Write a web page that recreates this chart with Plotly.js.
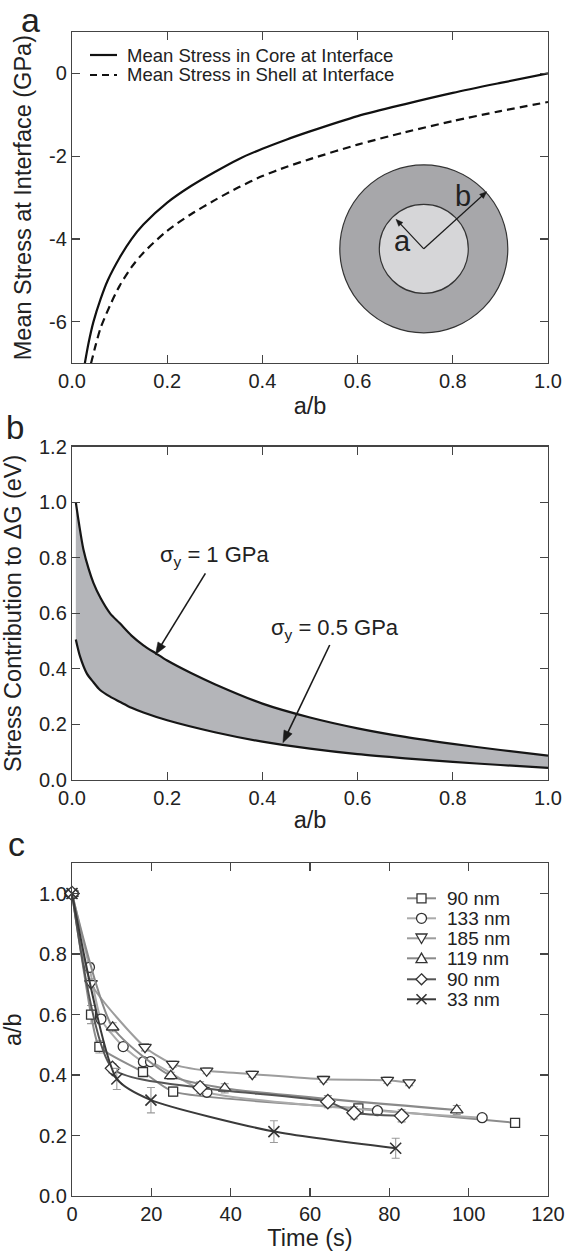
<!DOCTYPE html>
<html>
<head>
<meta charset="utf-8">
<script src="https://cdn.plot.ly/plotly-3.0.1.min.js"></script>
<style>
  html, body { margin: 0; padding: 0; background: #ffffff; }
  #chart { width: 565px; height: 1253px; }
</style>
</head>
<body>
<div id="chart"></div>
<script>
// ---------------- Panel a: mean stress at interface ----------------
const coreAB   = [0.027, 0.035, 0.045, 0.06, 0.075, 0.1, 0.125, 0.15, 0.2, 0.25, 0.3, 0.35, 0.4, 0.45, 0.5, 0.6, 0.7, 0.8, 0.9, 1.0];
const coreGPa  = [-7.0, -6.5, -6.0, -5.45, -5.0, -4.45, -4.0, -3.65, -3.12, -2.72, -2.38, -2.07, -1.82, -1.6, -1.4, -1.03, -0.74, -0.47, -0.23, 0.0];
const shellAB  = [0.04, 0.05, 0.06, 0.08, 0.1, 0.125, 0.15, 0.2, 0.25, 0.3, 0.35, 0.4, 0.45, 0.5, 0.6, 0.7, 0.8, 0.9, 1.0];
const shellGPa = [-7.0, -6.55, -6.15, -5.6, -5.13, -4.68, -4.33, -3.8, -3.4, -3.06, -2.75, -2.48, -2.26, -2.07, -1.72, -1.42, -1.15, -0.91, -0.69];
const legendA  = ['Mean Stress in Core at Interface', 'Mean Stress in Shell at Interface'];
const yTickValsA = [-6, -4, -2, 0];
const yTickTextA = ['-6', '-4', '-2', '0'];

// ---------------- Panel b: stress contribution to ΔG ----------------
const hiAB = [0.008, 0.015, 0.024, 0.035, 0.045, 0.06, 0.08, 0.1, 0.125, 0.15, 0.176, 0.2, 0.25, 0.3, 0.4, 0.5, 0.6, 0.7, 0.8, 0.9, 1.0];
const hiEV = [1.0, 0.92, 0.83, 0.76, 0.71, 0.655, 0.60, 0.565, 0.52, 0.485, 0.456, 0.43, 0.385, 0.345, 0.275, 0.225, 0.186, 0.155, 0.13, 0.108, 0.088];
const loAB = [0.008, 0.017, 0.031, 0.045, 0.059, 0.08, 0.1, 0.125, 0.15, 0.2, 0.3, 0.4, 0.5, 0.6, 0.7, 0.8, 0.9, 1.0];
const loEV = [0.506, 0.444, 0.384, 0.352, 0.324, 0.30, 0.282, 0.26, 0.243, 0.215, 0.172, 0.138, 0.113, 0.093, 0.078, 0.065, 0.054, 0.044];
const labelHi = 'σ<sub>y</sub> = 1 GPa';
const labelLo = 'σ<sub>y</sub> = 0.5 GPa';

// ---------------- Panel c: a/b versus time ----------------
const seriesNames = ['90 nm', '133 nm', '185 nm', '119 nm', '90 nm', '33 nm'];
const tSq   = [0, 4.8, 6.9, 17.9, 25.5, 72.2, 111.7];
const vSq   = [1.0, 0.600, 0.493, 0.410, 0.345, 0.290, 0.242];
const eSq   = [0, 0.03, 0.02, 0.015, 0.015, 0.012, 0.012];
const tCi   = [0, 4.4, 7.3, 12.9, 18.0, 19.8, 34.0, 77.0, 103.4];
const vCi   = [1.0, 0.756, 0.585, 0.494, 0.444, 0.444, 0.343, 0.282, 0.259];
const eCi   = [0, 0.015, 0.015, 0.012, 0.012, 0.012, 0.01, 0.01, 0.01];
const tDn   = [0, 4.8, 18.4, 25.4, 33.95, 45.45, 63.4, 79.5, 85.0];
const vDn   = [1.0, 0.703, 0.492, 0.436, 0.414, 0.403, 0.386, 0.383, 0.375];
const eDn   = [0, 0.015, 0.012, 0.01, 0.01, 0.01, 0.01, 0.01, 0.01];
const tUp   = [0, 10.25, 24.9, 38.5, 97.0];
const vUp   = [1.0, 0.558, 0.397, 0.356, 0.284];
const eUp   = [0, 0.015, 0.012, 0.015, 0.015];
const tDi   = [0, 10.2, 32.3, 64.5, 71.1, 83.1];
const vDi   = [1.0, 0.422, 0.358, 0.312, 0.275, 0.265];
const eDi   = [0, 0.015, 0.02, 0.02, 0.02, 0.02];
const tX    = [0, 11.3, 19.9, 50.9, 81.6];
const vX    = [1.0, 0.387, 0.317, 0.213, 0.158];
const eX    = [0, 0.035, 0.042, 0.036, 0.033];

// ---------------- layout helpers (pixel -> paper) ----------------
const W = 565, H = 1253;
const ML = 72, MR = 17, MT = 32, MB = 57;
const PL = ML, PR = W - MR, PT = MT, PB = H - MB;
const px = v => (v - PL) / (PR - PL);
const py = v => 1 - (v - PT) / (PB - PT);
const FONT = 'Liberation Sans, Arial, Helvetica, sans-serif';
const INK = '#222222';
const FRAME = '#444444';

const axisBase = {
  showline: true, linecolor: FRAME, linewidth: 1.2, mirror: 'ticks',
  ticks: 'inside', ticklen: 8, tickwidth: 1.2, tickcolor: FRAME,
  showgrid: false, zeroline: false, automargin: false,
  tickfont: { family: FONT, size: 20, color: INK }
};
const titleFont = { family: FONT, size: 23.5, color: INK };

const colSq = '#8c8c8c', colCi = '#ababab', colDn = '#9d9d9d', colUp = '#8a8a8a', colDi = '#555555', colX = '#3a3a3a';
const mkLine = '#333333';

function seriesTrace(t, v, e, name, color, symbol, size) {
  const isX = symbol === 'x-thin';
  return {
    x: t, y: v, name: name, xaxis: 'x3', yaxis: 'y3', type: 'scatter', mode: 'lines+markers',
    showlegend: false, cliponaxis: false,
    line: { color: color, width: 2, shape: 'spline', smoothing: 0.6 },
    marker: isX ? { symbol: symbol, size: size, line: { color: mkLine, width: 1.6 } }
                : { symbol: symbol, size: size, color: '#ffffff', line: { color: mkLine, width: 1.3 } },
    error_y: { type: 'data', array: e, visible: true, color: '#9a9a9a', thickness: 1.1, width: 4 }
  };
}

const traces = [
  { x: coreAB, y: coreGPa, xaxis: 'x', yaxis: 'y', mode: 'lines', name: legendA[0], showlegend: false,
    line: { color: '#111111', width: 2.2, shape: 'spline', smoothing: 0.8 } },
  { x: shellAB, y: shellGPa, xaxis: 'x', yaxis: 'y', mode: 'lines', name: legendA[1], showlegend: false,
    line: { color: '#111111', width: 2.2, dash: '8px,5px', shape: 'spline', smoothing: 0.8 } },
  { x: loAB, y: loEV, xaxis: 'x2', yaxis: 'y2', mode: 'lines', name: '0.5 GPa', showlegend: false,
    line: { color: '#161616', width: 2.2, shape: 'spline', smoothing: 0.8 } },
  { x: hiAB, y: hiEV, xaxis: 'x2', yaxis: 'y2', mode: 'lines', name: '1 GPa', showlegend: false,
    fill: 'tonexty', fillcolor: '#b4b5b9', line: { color: '#161616', width: 2.2, shape: 'spline', smoothing: 0.8 } },
  seriesTrace(tSq, vSq, eSq, seriesNames[0], colSq, 'square', 9),
  seriesTrace(tCi, vCi, eCi, seriesNames[1], colCi, 'circle', 10),
  seriesTrace(tDn, vDn, eDn, seriesNames[2], colDn, 'triangle-down', 11),
  seriesTrace(tUp, vUp, eUp, seriesNames[3], colUp, 'triangle-up', 11),
  seriesTrace(tDi, vDi, eDi, seriesNames[4], colDi, 'diamond', 11),
  seriesTrace(tX, vX, eX, seriesNames[5], colX, 'x-thin', 11)
];

// ---------------- shapes: inset, legends, arrows ----------------
const shapes = [];
const P = (x, y) => px(x).toFixed(5) + ',' + py(y).toFixed(5);
// inset core/shell diagram (panel a)
const cx = 423.8, cy = 248.8, rOut = 84, rIn = 44.5;
shapes.push({ type: 'circle', xref: 'paper', yref: 'paper', x0: px(cx - rOut), x1: px(cx + rOut), y0: py(cy + rOut), y1: py(cy - rOut),
  fillcolor: '#a7a7aa', line: { color: '#333333', width: 1.2 }, layer: 'above' });
shapes.push({ type: 'circle', xref: 'paper', yref: 'paper', x0: px(cx - rIn), x1: px(cx + rIn), y0: py(cy + rIn), y1: py(cy - rIn),
  fillcolor: '#d6d6d8', line: { color: '#333333', width: 1.2 }, layer: 'above' });

function arrowShape(tx, ty, hx, hy, headLen, headHalf, width) {
  const dx = hx - tx, dy = hy - ty, len = Math.hypot(dx, dy);
  const ux = dx / len, uy = dy / len;
  const bx = hx - ux * headLen, by = hy - uy * headLen;
  const nx = -uy, ny = ux;
  shapes.push({ type: 'line', xref: 'paper', yref: 'paper', x0: px(tx), y0: py(ty), x1: px(bx + ux), y1: py(by + uy),
    line: { color: '#1a1a1a', width: width }, layer: 'above' });
  shapes.push({ type: 'path', xref: 'paper', yref: 'paper', layer: 'above',
    path: 'M' + P(hx, hy) + 'L' + P(bx + nx * headHalf, by + ny * headHalf) + 'L' + P(bx - nx * headHalf, by - ny * headHalf) + 'Z',
    fillcolor: '#1a1a1a', line: { color: '#1a1a1a', width: 0.5 } });
}
arrowShape(cx, cy, 396, 219.3, 7, 2.8, 1.2);
arrowShape(cx, cy, 486.7, 191.7, 7, 2.8, 1.2);
arrowShape(205.4, 573.3, 155.5, 654.5, 12, 4.5, 1.6);
arrowShape(329.7, 645, 282.9, 742.7, 12, 4.5, 1.6);

// legend a line samples
shapes.push({ type: 'line', xref: 'paper', yref: 'paper', x0: px(90), x1: px(117), y0: py(55), y1: py(55), line: { color: '#111', width: 2.2 } });
shapes.push({ type: 'line', xref: 'paper', yref: 'paper', x0: px(90), x1: px(117), y0: py(75), y1: py(75), line: { color: '#111', width: 2.2, dash: '7px,5px' } });

// legend c samples
const legRows = [898.3, 918.3, 938.3, 958.3, 979.3, 999.3];
const legCols = [colSq, colCi, colDn, colUp, colDi, colX];
const lx0 = 407, lx1 = 436, mx = 421.5;
legRows.forEach((r, i) => {
  shapes.push({ type: 'line', xref: 'paper', yref: 'paper', x0: px(lx0), x1: px(lx1), y0: py(r), y1: py(r), line: { color: legCols[i], width: 2 } });
});
const mkStyle = { fillcolor: '#ffffff', line: { color: mkLine, width: 1.3 } };
shapes.push(Object.assign({ type: 'rect', xref: 'paper', yref: 'paper', x0: px(mx - 4.5), x1: px(mx + 4.5), y0: py(legRows[0] + 4.5), y1: py(legRows[0] - 4.5) }, mkStyle));
shapes.push(Object.assign({ type: 'circle', xref: 'paper', yref: 'paper', x0: px(mx - 5), x1: px(mx + 5), y0: py(legRows[1] + 5), y1: py(legRows[1] - 5) }, mkStyle));
shapes.push(Object.assign({ type: 'path', xref: 'paper', yref: 'paper',
  path: 'M' + P(mx - 5.5, legRows[2] - 4.3) + 'L' + P(mx + 5.5, legRows[2] - 4.3) + 'L' + P(mx, legRows[2] + 5.2) + 'Z' }, mkStyle));
shapes.push(Object.assign({ type: 'path', xref: 'paper', yref: 'paper',
  path: 'M' + P(mx, legRows[3] - 5.2) + 'L' + P(mx + 5.5, legRows[3] + 4.3) + 'L' + P(mx - 5.5, legRows[3] + 4.3) + 'Z' }, mkStyle));
shapes.push(Object.assign({ type: 'path', xref: 'paper', yref: 'paper',
  path: 'M' + P(mx, legRows[4] - 5.5) + 'L' + P(mx + 5.5, legRows[4]) + 'L' + P(mx, legRows[4] + 5.5) + 'L' + P(mx - 5.5, legRows[4]) + 'Z' }, mkStyle));
shapes.push({ type: 'path', xref: 'paper', yref: 'paper',
  path: 'M' + P(mx - 5, legRows[5] - 5) + 'L' + P(mx + 5, legRows[5] + 5) + 'M' + P(mx + 5, legRows[5] - 5) + 'L' + P(mx - 5, legRows[5] + 5),
  line: { color: mkLine, width: 1.6 } });

// ---------------- annotations ----------------
const ann = [];
function txt(x, y, text, size, xanchor) {
  ann.push({ xref: 'paper', yref: 'paper', x: px(x), y: py(y), text: text, showarrow: false,
    xanchor: xanchor || 'center', yanchor: 'middle', font: { family: FONT, size: size, color: INK } });
}
// panel letters
txt(30.5, 20, 'a', 34);
txt(15, 427, 'b', 33);
txt(16, 844, 'c', 34);
// legend a text
txt(125.4, 55, legendA[0], 18.5, 'left');
txt(125.4, 75, legendA[1], 18.5, 'left');
// legend c text
legRows.forEach((r, i) => txt(445, r, seriesNames[i], 19, 'left'));
// inset labels
txt(402.7, 241, 'a', 29);
txt(463.3, 196, 'b', 29);
// panel b labels
txt(157.5, 556, labelHi, 22, 'left');
txt(268.5, 629, labelLo, 22, 'left');

// ---------------- layout ----------------
const layout = {
  width: W, height: H,
  margin: { l: ML, r: MR, t: MT, b: MB, pad: 0 },
  paper_bgcolor: '#ffffff', plot_bgcolor: '#ffffff',
  font: { family: FONT, color: INK },
  showlegend: false,
  xaxis: Object.assign({}, axisBase, { domain: [0, 1], anchor: 'y', range: [0, 1], tick0: 0, dtick: 0.2, tickformat: '.1f',
    title: { text: 'a/b', font: titleFont, standoff: 6 } }),
  yaxis: Object.assign({}, axisBase, { domain: [0.71538, 1], anchor: 'x', range: [-7, 1], tickvals: yTickValsA, ticktext: yTickTextA,
    title: { text: 'Mean Stress at Interface (GPa)', font: titleFont, standoff: 10 } }),
  xaxis2: Object.assign({}, axisBase, { domain: [0, 1], anchor: 'y2', range: [0, 1], tick0: 0, dtick: 0.2, tickformat: '.1f',
    title: { text: 'a/b', font: titleFont, standoff: 3 } }),
  yaxis2: Object.assign({}, axisBase, { domain: [0.35739, 0.64373], anchor: 'x2', range: [0, 1.2], tick0: 0, dtick: 0.2, tickformat: '.1f',
    title: { text: 'Stress Contribution to ΔG (eV)', font: titleFont, standoff: 13 } }),
  xaxis3: Object.assign({}, axisBase, { domain: [0, 1], anchor: 'y3', range: [0, 120], tick0: 0, dtick: 20,
    title: { text: 'Time (s)', font: titleFont, standoff: 2 } }),
  yaxis3: Object.assign({}, axisBase, { domain: [0, 0.28582], anchor: 'x3', range: [0, 1.1], tick0: 0, dtick: 0.2, tickformat: '.1f',
    title: { text: 'a/b', font: titleFont, standoff: 15 } }),
  shapes: shapes,
  annotations: ann
};

Plotly.newPlot('chart', traces, layout, { staticPlot: true, displayModeBar: false });
</script>
</body>
</html>
